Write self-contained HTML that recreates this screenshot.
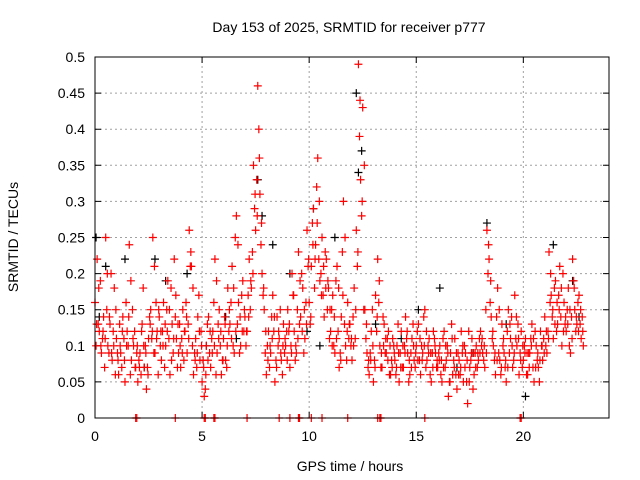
<!DOCTYPE html>
<html><head><meta charset="utf-8"><style>
body{margin:0;background:#fff}
svg{display:block;font-family:"Liberation Sans",sans-serif}
</style></head><body>
<svg id="chart" width="640" height="480" viewBox="0 0 640 480">
<rect width="640" height="480" fill="#fff"/>
<text x="349" y="32" font-size="14" text-anchor="middle">Day 153 of 2025, SRMTID for receiver p777</text>
<text transform="translate(18,237) rotate(-90)" font-size="14" text-anchor="middle">SRMTID / TECUs</text>
<text x="350" y="471" font-size="14" text-anchor="middle">GPS time / hours</text>
<g id="grid"></g><g id="axes"></g><g id="black"></g><g id="red"></g>
<rect x="95" y="57" width="514" height="361" fill="none" stroke="#000" stroke-width="1"/>
</svg>
<script>
const xTicks=[0,5,10,15,20];
const yTicks=[0,0.05,0.1,0.15,0.2,0.25,0.3,0.35,0.4,0.45,0.5];
const yTickLabels=["0","0.05","0.1","0.15","0.2","0.25","0.3","0.35","0.4","0.45","0.5"];
const redA=[.16,.22,.12,.09,.14,.25,.10,.13,.08,.18,
.11,.06,.09,.14,.05,.12,.24,.08,.10,.07,
.05,.09,.13,.07,.04,.11,.15,.25,.09,.12,
.14,.08,.16,.10,.19,.06,.13,.22,.11,.09,
.07,.15,.12,.09,.26,.21,.06,.11,.14,.08,
.05,.03,.10,.14,.07,.12,.22,.09,.15,.06,
.11,.08,.18,.13,.21,.09,.28,.16,.10,.19,
.14,.12,.22,.18,.35,.26,.46,.31,.20,.15,
.06,.12,.09,.17,.05,.14,.11,.08,.13,.10,
.15,.07,.20,.12,.09,.23,.14,.18,.11,.26,
.16,.21,.29,.24,.36,.19,.25,.14,.22,.18,
.12,.17,.09,.21,.07,.14,.30,.10,.16,.13,
.08,.18,.26,.49,.33,.43,.15,.09,.06,.12,
.05,.17,.22,.10,.07,.13,.09,.12,.06,.11,
.08,.10,.05,.12,.07,.14,.09,.06,.11,.08,
.10,.13,.06,.09,.15,.08,.11,.05,.12,.09,
.07,.10,.05,.12,.08,.03,.09,.06,.11,.04,
.08,.12,.05,.09,.02,.07,.11,.06,.10,.08,
.12,.09,.07,.26,.22,.14,.10,.06,.18,.08,
.13,.09,.05,.15,.11,.07,.17,.10,.06,.12,
.08,.11,.06,.09,.13,.05,.10,.07,.12,.08,
.14,.09,.23,.17,.11,.19,.13,.21,.10,.16,
.12,.18,.09,.22,.15,.13,.17,.11,.10];
const redB=[.10,.13,.19,.11,.07,.15,.09,.20,.12,.06,
.09,.13,.07,.11,.16,.10,.06,.15,.12,.09,
.08,.06,.18,.10,.07,.14,.11,.09,.16,.06,
.10,.12,.07,.15,.11,.18,.09,.14,.07,.13,
.11,.08,.16,.13,.21,.10,.09,.07,.17,.12,
.08,.04,.13,.09,.11,.16,.06,.13,.10,.08,
.14,.07,.12,.16,.10,.25,.13,.09,.17,.12,
.10,.17,.15,.23,.29,.33,.40,.24,.17,.09,
.10,.07,.14,.12,.08,.10,.15,.06,.09,.12,
.12,.10,.17,.08,.15,.13,.20,.09,.16,.21,
.13,.27,.18,.32,.22,.20,.17,.23,.15,.11,
.15,.10,.19,.12,.09,.23,.13,.08,.11,.10,
.14,.11,.21,.39,.28,.15,.11,.07,.09,.15,
.08,.12,.16,.07,.14,.09,.11,.06,.08,.10,
.06,.13,.09,.07,.10,.11,.05,.09,.13,.07,
.12,.08,.10,.14,.07,.10,.06,.09,.11,.07,
.09,.06,.11,.07,.10,.05,.13,.08,.06,.09,
.06,.09,.10,.05,.12,.08,.04,.09,.07,.11,
.10,.08,.15,.20,.16,.11,.08,.14,.09,.06,
.10,.07,.12,.09,.14,.08,.11,.13,.09,.07,
.10,.06,.09,.11,.07,.12,.08,.05,.10,.11,
.10,.12,.16,.14,.18,.12,.17,.14,.20,.13,
.15,.10,.14,.19,.12,.16,.13,.14];
const redC=[.13,.18,.10,.12,.11,.20,.14,.09,.10,.15,
.08,.10,.12,.08,.10,.14,.19,.11,.07,.10,
.07,.12,.10,.09,.06,.13,.12,.21,.11,.15,
.12,.10,.13,.12,.15,.08,.11,.17,.13,.10,
.09,.12,.14,.11,.23,.18,.08,.09,.12,.10,
.07,.06,.08,.12,.09,.10,.19,.11,.12,.08,
.13,.10,.15,.11,.18,.12,.24,.14,.12,.15,
.12,.14,.19,.20,.31,.28,.36,.27,.18,.12,
.08,.10,.11,.14,.07,.12,.09,.10,.11,.08,
.13,.09,.17,.10,.11,.19,.12,.15,.13,.22,
.14,.24,.22,.27,.30,.17,.21,.18,.19,.15,
.10,.14,.11,.18,.08,.17,.25,.12,.13,.11,
.10,.15,.23,.44,.30,.35,.13,.08,.08,.10,
.07,.14,.19,.09,.10,.11,.08,.10,.07,.09,
.07,.09,.07,.10,.09,.12,.08,.07,.10,.09,
.08,.11,.08,.10,.12,.09,.09,.07,.10,.08,
.08,.08,.07,.10,.09,.05,.11,.07,.09,.06,
.07,.10,.07,.08,.05,.09,.09,.07,.09,.09,
.11,.10,.09,.24,.19,.12,.09,.08,.15,.07,
.11,.08,.07,.13,.10,.09,.14,.11,.08,.10,
.09,.09,.07,.10,.11,.07,.09,.08,.10,.09,
.12,.11,.20,.15,.13,.16,.15,.18,.12,.14,
.13,.15,.11,.18,.14,.12,.15,.12];
const zeroT=[1.9,1.95,3.75,5.1,5.15,5.55,5.6,7.1,8.6,9.1,9.5,9.55,10.1,10.6,11.8,13.2,13.3,13.35,15.4,19.85,19.9];
const blackT=[0.05,0.2,0.5,1.4,2.3,2.8,3.3,4.3,5.2,6.1,6.6,7.6,7.8,8.3,9.1,9.9,10.2,10.5,11.2,12.2,12.3,12.45,13.1,14.3,15.1,16.1,16.9,17.6,18.3,19.2,20.1,21.4,22.3,22.6];
const blackV=[.25,.14,.21,.22,.07,.22,.19,.20,.10,.14,.11,.33,.28,.24,.20,.12,.29,.10,.25,.45,.34,.37,.13,.11,.15,.18,.07,.09,.27,.13,.03,.24,.19,.14];
const X0=95,X1=609,Y0=418,Y1=57,XMAX=24,YMAX=0.5;
const sx=t=>X0+t/XMAX*(X1-X0);
const sy=v=>Y0-v/YMAX*(Y0-Y1);
const NS="http://www.w3.org/2000/svg";
function mk(tag,attrs,parent){const e=document.createElementNS(NS,tag);for(const k in attrs)e.setAttribute(k,attrs[k]);document.getElementById(parent).appendChild(e);return e;}
xTicks.forEach((t,i)=>{
  const x=sx(t);
  if(i>0){const g=mk('line',{x1:x,x2:x,y1:Y0,y2:Y1,stroke:'#a0a0a0','stroke-dasharray':'2,3'},'grid');
  
  }
  const tk=mk('path',{d:`M${x},${Y0}v-6M${x},${Y1}v6`,stroke:'#000'},'axes');
  
  
  const tl=mk('text',{x:x,y:Y0+23,'font-size':14,'text-anchor':'middle'},'axes');
  tl.textContent=String(t);
  
  
});
yTicks.forEach((v,i)=>{
  const y=sy(v);
  if(i>0&&i<yTicks.length-1){const g=mk('line',{x1:X0,x2:X1,y1:y,y2:y,stroke:'#a0a0a0','stroke-dasharray':'2,3'},'grid');
  
  }
  const tk=mk('path',{d:`M${X0},${y}h6M${X1},${y}h-6`,stroke:'#000'},'axes');
  
  
  const tl=mk('text',{x:X0-10,y:y+5,'font-size':14,'text-anchor':'end'},'axes');
  tl.textContent=yTickLabels[i];
  
  
});
function plus(t,v,color,parent,name){
  const x=sx(t),y=sy(v);
  const p=mk('path',{d:`M${x-4},${y}h8M${x},${y-4}v8`,stroke:color,'stroke-width':1.2,fill:'none'},parent);
  
  
}
blackT.forEach((t,i)=>plus(t,blackV[i],'#000','black','black-point'));
redA.forEach((v,i)=>plus(i*0.1,v,'#f00','red','red-point'));
redB.forEach((v,i)=>plus(i*0.1+0.05,v,'#f00','red','red-point'));
redC.forEach((v,i)=>plus(i*0.1+0.075,v,'#f00','red','red-point'));
zeroT.forEach(t=>plus(t,0,'#f00','red','red-zero-point'));
</script>
</body></html>
